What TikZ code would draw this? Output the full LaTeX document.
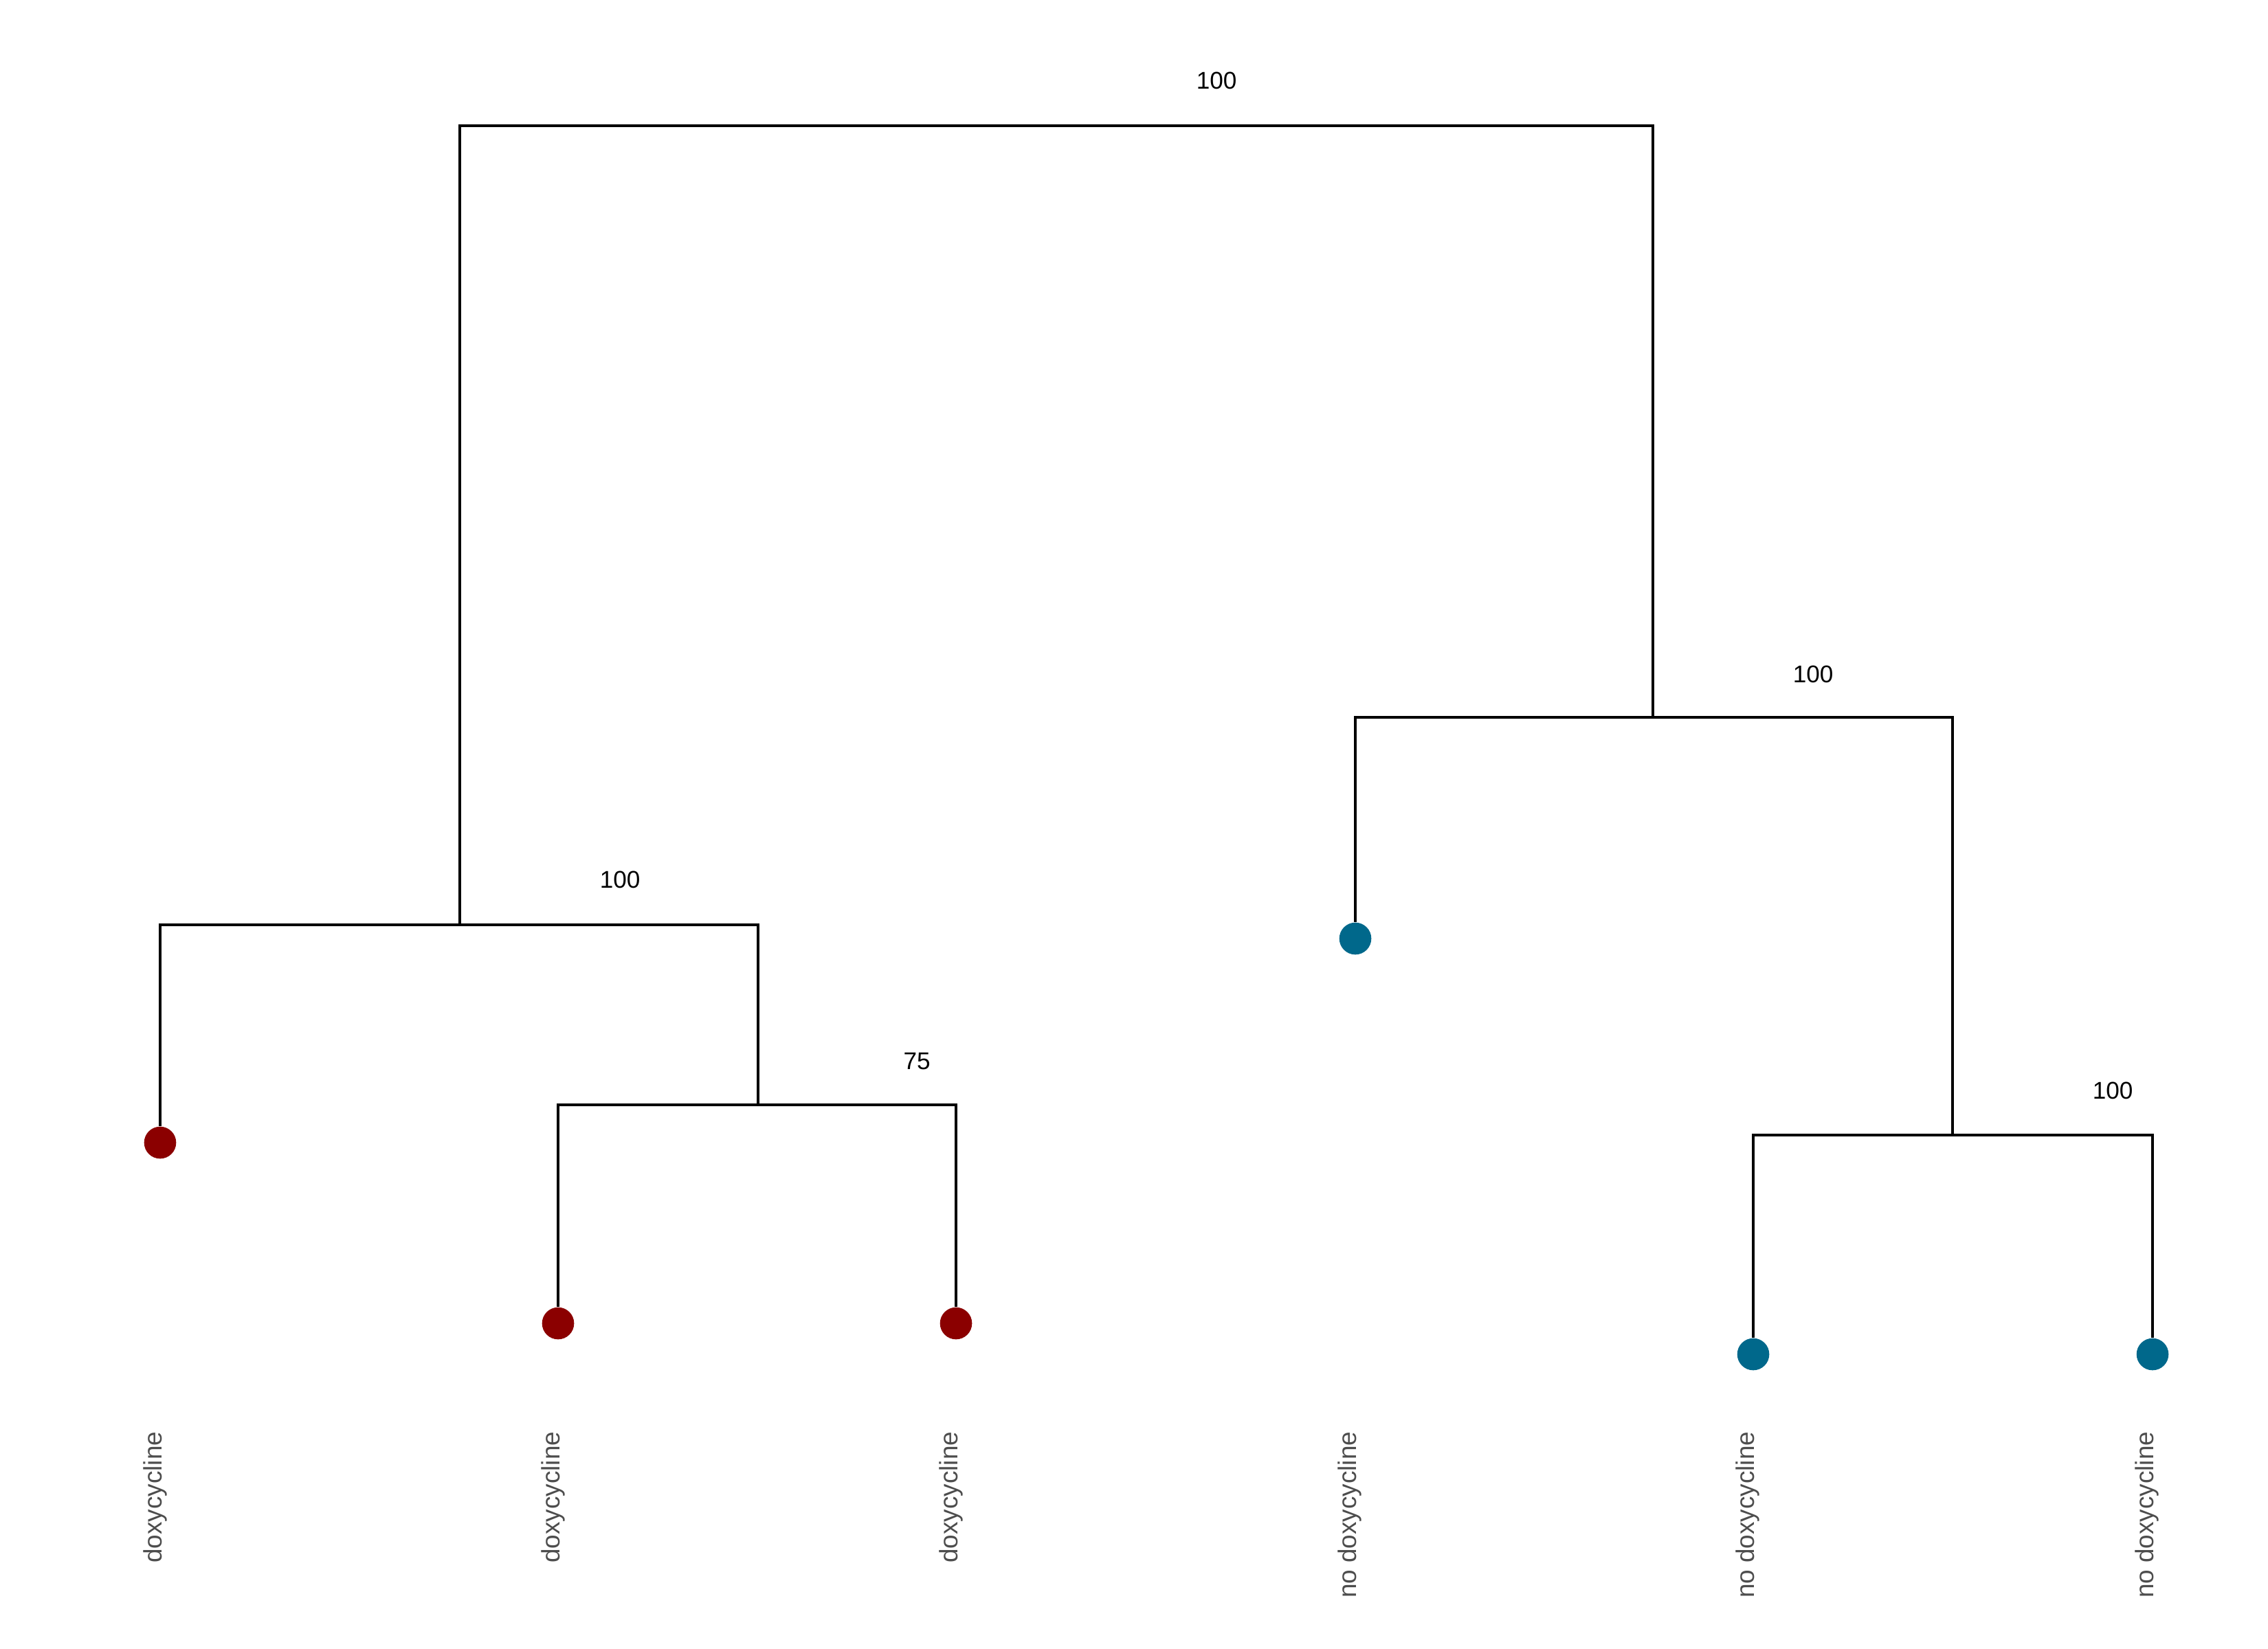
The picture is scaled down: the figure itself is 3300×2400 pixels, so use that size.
\documentclass[tikz,border=0pt]{standalone}
\usepackage{fontspec}
\setmainfont{Liberation Sans}
\definecolor{doxy}{HTML}{8B0000}
\definecolor{nodoxy}{HTML}{00688B}
\definecolor{axisgray}{HTML}{4D4D4D}
\begin{document}
\begin{tikzpicture}[
  x=0.01cm, y=-0.01cm,
  branch/.style={draw=black, line width=0.9pt},
  tipdot/.style={circle, fill=#1, inner sep=0pt, minimum size=0.466cm},
  support/.style={font=\fontsize{10}{12}\selectfont, text=black, inner sep=0pt},
  leaflab/.style={font=\fontsize{10.5}{12.5}\selectfont, text=axisgray, rotate=90,
                  anchor=base east, inner sep=0pt}
]
\useasboundingbox (0,0) rectangle (3300,2400);

% internal nodes (at the height of their bars)
\coordinate (root) at (1537,183);
\coordinate (L)    at (669,1346);
\coordinate (L2)   at (1103,1608);
\coordinate (R)    at (2405,1044);
\coordinate (R2)   at (2841,1652);

% tips
\node[tipdot=doxy]   (a) at (233,1663) {};
\node[tipdot=doxy]   (b) at (812,1926) {};
\node[tipdot=doxy]   (c) at (1391,1926) {};
\node[tipdot=nodoxy] (d) at (1972,1366) {};
\node[tipdot=nodoxy] (e) at (2551,1971) {};
\node[tipdot=nodoxy] (f) at (3132,1971) {};

% branches
\draw[branch] (root) -| (L);
\draw[branch] (root) -| (R);
\draw[branch] (L) -| (a);
\draw[branch] (L) -| (L2);
\draw[branch] (L2) -| (b);
\draw[branch] (L2) -| (c);
\draw[branch] (R) -| (d);
\draw[branch] (R) -| (R2);
\draw[branch] (R2) -| (e);
\draw[branch] (R2) -| (f);

% bootstrap support values
\node[support] (sroot) at ([xshift=2.33cm,yshift=0.66cm]root) {100};
\node[support] (sL)    at ([xshift=2.33cm,yshift=0.66cm]L) {100};
\node[support] (sL2)   at ([xshift=2.31cm,yshift=0.63cm]L2) {75};
\node[support] (sR)    at ([xshift=2.33cm,yshift=0.63cm]R) {100};
\node[support] (sR2)   at ([xshift=2.33cm,yshift=0.65cm]R2) {100};

% tip labels
\coordinate (labtop) at (0,2083);
\node[leaflab] (la) at ([xshift=0.02cm]a |- labtop) {doxycycline};
\node[leaflab] (lb) at ([xshift=0.02cm]b |- labtop) {doxycycline};
\node[leaflab] (lc) at ([xshift=0.02cm]c |- labtop) {doxycycline};
\node[leaflab] (ld) at ([xshift=0.01cm]d |- labtop) {no doxycycline};
\node[leaflab] (le) at ([xshift=0.01cm]e |- labtop) {no doxycycline};
\node[leaflab] (lf) at ([xshift=0.01cm]f |- labtop) {no doxycycline};
\end{tikzpicture}
\end{document}
